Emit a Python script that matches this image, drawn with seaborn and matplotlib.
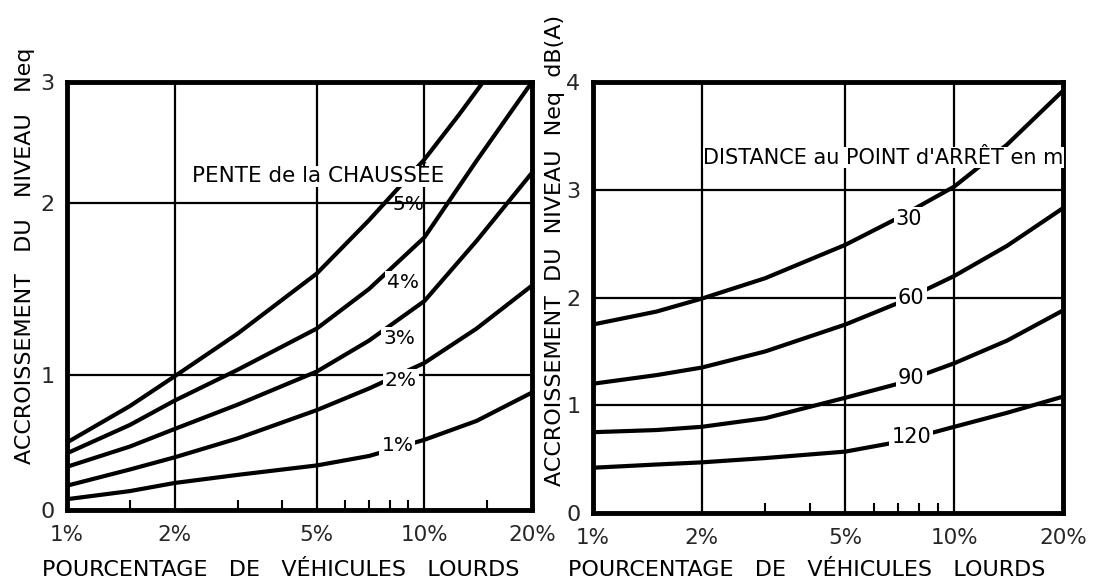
import numpy as np
import pandas as pd
import matplotlib
matplotlib.use('Agg')
import matplotlib.pyplot as plt
import seaborn as sns
from matplotlib.ticker import FixedLocator, NullFormatter

# values (x in % of heavy vehicles, y in dB(A))
pct = [1, 1.5, 2, 3, 5, 7, 10, 14, 20]
pente_1 = [0.08, 0.14, 0.20, 0.26, 0.33, 0.40, 0.52, 0.66, 0.87]
pente_2 = [0.18, 0.30, 0.39, 0.53, 0.74, 0.90, 1.07, 1.27, 1.52]
pente_3 = [0.32, 0.47, 0.60, 0.78, 1.02, 1.20, 1.43, 1.78, 2.25]
pente_4 = [0.42, 0.63, 0.81, 1.03, 1.27, 1.50, 1.80, 2.35, 3.00]
pct_5 = [1, 1.5, 2, 3, 5, 7, 10, 12.5, 14.6]
pente_5 = [0.50, 0.77, 0.99, 1.24, 1.59, 1.90, 2.36, 2.73, 3.00]

dist_pct = [1, 1.5, 2, 3, 5, 7, 10, 14, 20]
dist_30 = [1.75, 1.87, 1.99, 2.18, 2.49, 2.74, 3.03, 3.42, 3.92]
dist_60 = [1.20, 1.28, 1.35, 1.50, 1.75, 1.95, 2.20, 2.48, 2.83]
dist_90 = [0.75, 0.77, 0.80, 0.88, 1.07, 1.20, 1.39, 1.60, 1.88]
dist_120 = [0.42, 0.45, 0.47, 0.51, 0.57, 0.66, 0.80, 0.93, 1.08]

x_ticks = [1, 2, 5, 10, 20]
x_ticklabels = ['1%', '2%', '5%', '10%', '20%']
left_minor = [1.5, 3, 4, 6, 7, 8, 9, 15]
right_minor = [3, 4, 6, 7, 8, 9]

# the left scale of the drawing is not evenly spaced
left_yvals = [0, 1, 2, 3]
left_ypix = [0, 135, 307, 428]

df_left = pd.concat([
    pd.DataFrame({'pct': pct, 'dB': pente_1, 'pente': '1%'}),
    pd.DataFrame({'pct': pct, 'dB': pente_2, 'pente': '2%'}),
    pd.DataFrame({'pct': pct, 'dB': pente_3, 'pente': '3%'}),
    pd.DataFrame({'pct': pct, 'dB': pente_4, 'pente': '4%'}),
    pd.DataFrame({'pct': pct_5, 'dB': pente_5, 'pente': '5%'}),
])
df_right = pd.concat([
    pd.DataFrame({'pct': dist_pct, 'dB': dist_30, 'dist': '30'}),
    pd.DataFrame({'pct': dist_pct, 'dB': dist_60, 'dist': '60'}),
    pd.DataFrame({'pct': dist_pct, 'dB': dist_90, 'dist': '90'}),
    pd.DataFrame({'pct': dist_pct, 'dB': dist_120, 'dist': '120'}),
])

sns.set_theme(style='white')
plt.rcParams['font.family'] = ['DejaVu Sans']
plt.rcParams['text.color'] = 'black'

fig = plt.figure(figsize=(11.09, 5.87), dpi=100)
ax1 = fig.add_axes([0.0604, 0.1312, 0.4193, 0.7291])
ax2 = fig.add_axes([0.5347, 0.1261, 0.4238, 0.7340])

sns.lineplot(data=df_left, x='pct', y='dB', hue='pente', palette=['black'] * 5,
             estimator=None, sort=True, lw=3, legend=False, ax=ax1)
sns.lineplot(data=df_right, x='pct', y='dB', hue='dist', palette=['black'] * 4,
             estimator=None, sort=True, lw=3, legend=False, ax=ax2)

ax1.set_yscale('function', functions=(lambda y: np.interp(y, left_yvals, left_ypix),
                                      lambda p: np.interp(p, left_ypix, left_yvals)))

for ax, minor, ymax in [(ax1, left_minor, 3), (ax2, right_minor, 4)]:
    ax.set_xscale('log')
    ax.set_xlim(1, 20)
    ax.set_ylim(0, ymax)
    ax.set_xticks(x_ticks)
    ax.set_xticklabels(x_ticklabels, fontsize=15.5)
    ax.xaxis.set_minor_locator(FixedLocator(minor))
    ax.xaxis.set_minor_formatter(NullFormatter())
    ax.set_yticks(range(ymax + 1))
    ax.set_yticklabels([str(v) for v in range(ymax + 1)], fontsize=16)
    ax.tick_params(axis='x', which='major', length=0, pad=11)
    ax.tick_params(axis='y', which='major', length=0, pad=9)
    ax.tick_params(axis='x', which='minor', bottom=True, direction='in', length=7, width=1.5, color='black')
    ax.grid(which='major', color='black', lw=1.6)
    ax.grid(which='minor', visible=False)
    for s in ax.spines.values():
        s.set_color('black')
        s.set_linewidth(3.5)
    ax.set_xlabel('')
    ax.set_ylabel('')

box = dict(facecolor='white', edgecolor='none', pad=1.5)
title_box = dict(facecolor='white', edgecolor='none', pad=0.5)

ax1.text(2.24, 2.22, 'PENTE de la CHAUSSÉE', fontsize=15.5, va='center', ha='left',
         bbox=title_box, zorder=5)
ax1.text(9.0, 1.99, '5%', fontsize=14.5, va='center', ha='center', zorder=5)
ax1.text(8.7, 1.54, '4%', fontsize=14.5, va='center', ha='center', bbox=box, zorder=5)
ax1.text(8.5, 1.21, '3%', fontsize=14.5, va='center', ha='center', bbox=box, zorder=5)
ax1.text(8.6, 0.96, '2%', fontsize=14.5, va='center', ha='center', bbox=box, zorder=5)
ax1.text(8.4, 0.48, '1%', fontsize=14.5, va='center', ha='center', bbox=box, zorder=5)

ax2.text(2.02, 3.3, "DISTANCE au POINT d'ARRÊT en m", fontsize=15, va='center', ha='left',
         bbox=title_box, zorder=5)
ax2.text(7.5, 2.73, '30', fontsize=15, va='center', ha='center', bbox=box, zorder=5)
ax2.text(7.6, 2.0, '60', fontsize=15, va='center', ha='center', bbox=box, zorder=5)
ax2.text(7.6, 1.25, '90', fontsize=15, va='center', ha='center', bbox=box, zorder=5)
ax2.text(7.6, 0.71, '120', fontsize=15, va='center', ha='center', bbox=box, zorder=5)

fig.text(25 / 1109, 1 - 256 / 587, 'ACCROISSEMENT   DU   NIVEAU   Neq', rotation=90,
         fontsize=16, ha='center', va='center')
fig.text(555 / 1109, 1 - 250 / 587, 'ACCROISSEMENT  DU  NIVEAU  Neq  dB(A)', rotation=90,
         fontsize=16, ha='center', va='center')
fig.text(281 / 1109, 1 - 570 / 587, 'POURCENTAGE   DE   VÉHICULES   LOURDS',
         fontsize=16, ha='center', va='center')
fig.text(807 / 1109, 1 - 570 / 587, 'POURCENTAGE   DE   VÉHICULES   LOURDS',
         fontsize=16, ha='center', va='center')

fig.savefig('out.png', dpi=100, facecolor='white')
